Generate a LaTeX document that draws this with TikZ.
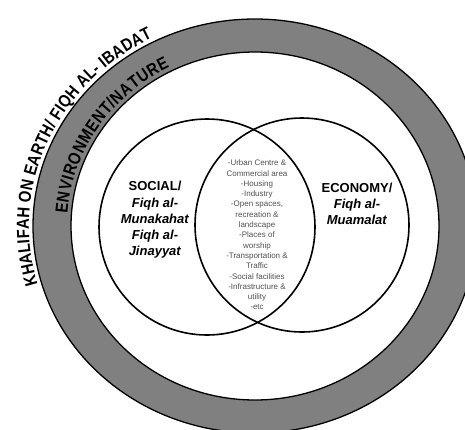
\documentclass[tikz,border=0pt]{standalone}
\usepackage{fontspec}
\setmainfont{Liberation Sans}
\newfontfamily\ringfont[FakeStretch=0.85]{Liberation Sans}
\usetikzlibrary{decorations.text}
\definecolor{ringgray}{RGB}{128,128,128}
\definecolor{listgray}{RGB}{80,80,80}
\begin{document}
\begin{tikzpicture}[x=1pt,y=-1pt]
  \useasboundingbox (0,0) rectangle (465,429);
  \clip (0,0) rectangle (465,429);

  \draw[fill=ringgray,even odd rule,line width=1.3pt]
  (255,226) ellipse [x radius=222, y radius=207]
  (255,226) ellipse [x radius=184, y radius=174];

  \path[decorate,decoration={text along path,text align={fit to path},
  text={|\ringfont\fontsize{17.5}{17.5}\selectfont\bfseries|KHALIFAH ON EARTH/ FIQH AL- IBADAT}}]
  (255,226) ++(164:226 and 211) arc[start angle=164, end angle=243, x radius=226, y radius=211];
  \path[decorate,decoration={text along path,text align={fit to path},
  text={|\ringfont\fontsize{17.5}{17.5}\selectfont\bfseries|ENVIRONMENT/NATURE}}]
  (255,226) ++(184:188 and 178) arc[start angle=184, end angle=243, x radius=188, y radius=178];

  \node[circle,draw,line width=1.6pt,minimum size=216pt,inner sep=0pt,outer sep=0pt]
  (social) at (207,227) {};
  \node[circle,draw,line width=1.6pt,minimum size=214pt,inner sep=0pt,outer sep=0pt]
  (economy) at (302,225) {};

  \node[align=center,font=\fontsize{13}{16.2}\selectfont\bfseries]
  (socialtext) at (155,220) {SOCIAL/\\ \textit{Fiqh al-}\\ \textit{Munakahat}\\
  \textit{Fiqh al-}\\ \textit{Jinayyat}};
  \node[align=center,font=\fontsize{13}{16.2}\selectfont\bfseries]
  (economytext) at (357,204) {ECONOMY/\\ \textit{Fiqh al-}\\ \textit{Muamalat}};
  \node[align=center,text=listgray,font=\fontsize{8}{10.3}\selectfont]
  (landuse) at (257,235) {-Urban Centre \&\\ Commercial area\\ -Housing\\ -Industry\\
  -Open spaces,\\ recreation \&\\ landscape\\ -Places of\\ worship\\
  -Transportation \&\\ Traffic\\ -Social facilities\\ -Infrastructure \&\\
  utility\\ -etc};
\end{tikzpicture}
\end{document}
